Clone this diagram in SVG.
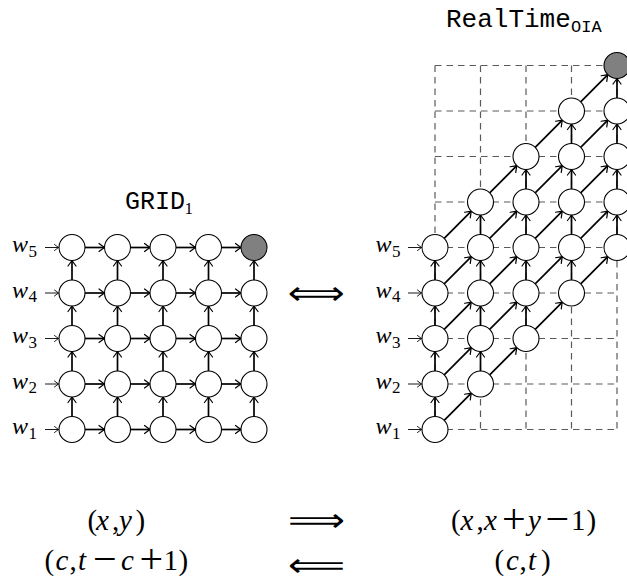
<svg xmlns="http://www.w3.org/2000/svg" width="627" height="586" viewBox="0 0 627 586">
<style>
.nd{fill:#fff;stroke:#000;stroke-width:1.1}
.gr{fill:#808080;stroke:#000;stroke-width:1.1}
.e{stroke:#000;stroke-width:1.7;fill:none;marker-end:url(#ah)}
.in{stroke:#000;stroke-width:0.9;fill:none;marker-end:url(#ahs)}
.dg{stroke:#5a5a5a;stroke-width:1.2;stroke-dasharray:6.5 5;fill:none}
.tt{font-family:"Liberation Mono",monospace;font-size:25px}
.ts{font-family:"Liberation Mono",monospace;font-size:17px}
.m{font-family:"Liberation Serif",serif;font-size:29px}
.lb{font-family:"Liberation Serif",serif;font-size:24px}
.sb{font-family:"Liberation Serif",serif;font-size:17px;font-style:normal}
.i{font-style:italic}
.op{font-size:42px}
.dbl{font-family:"DejaVu Sans",sans-serif;font-size:32px}
</style>
<defs>
<marker id="ah" markerUnits="userSpaceOnUse" markerWidth="12" markerHeight="12" viewBox="-10 -6 12 12" refX="0" refY="0" orient="auto" overflow="visible">
<path d="M-5.5,-4 Q-1.5,-1 0,0 Q-1.5,1 -5.5,4" fill="none" stroke="#000" stroke-width="1.2" stroke-linecap="round"/>
</marker>
<marker id="ahs" markerUnits="userSpaceOnUse" markerWidth="10" markerHeight="10" viewBox="-8 -5 10 10" refX="0" refY="0" orient="auto" overflow="visible">
<path d="M-4,-3 Q-1,-0.7 0,0 Q-1,0.7 -4,3" fill="none" stroke="#000" stroke-width="0.9" stroke-linecap="round"/>
</marker>
</defs>

<g id="titles">
<text class="tt" x="125" y="208.5">GRID<tspan class="sb" x="184.5" y="213.5">1</tspan></text>
<text class="tt" x="446" y="26.7" style="font-size:26px">RealTime<tspan class="ts" x="571" y="31.7">OIA</tspan></text>
</g>

<g id="dashed-grid">
<path class="dg" d="M435,65.5H617M435,111H617M435,156.5H617M435,202H617M435,247.5H617M435,293H617M435,338.5H617M435,384H617M435,429.5H617"/>
<path class="dg" d="M435,65.5V429.5M480.5,65.5V429.5M526,65.5V429.5M571.5,65.5V429.5M617,65.5V429.5"/>
</g>

<g id="connectors">
<line class="in" x1="45" y1="247.5" x2="58.5" y2="247.5"/>
<line class="in" x1="45" y1="293" x2="58.5" y2="293"/>
<line class="in" x1="45" y1="338.5" x2="58.5" y2="338.5"/>
<line class="in" x1="45" y1="384" x2="58.5" y2="384"/>
<line class="in" x1="45" y1="429.5" x2="58.5" y2="429.5"/>
<line class="in" x1="408" y1="247.5" x2="421.5" y2="247.5"/>
<line class="in" x1="408" y1="293" x2="421.5" y2="293"/>
<line class="in" x1="408" y1="338.5" x2="421.5" y2="338.5"/>
<line class="in" x1="408" y1="384" x2="421.5" y2="384"/>
<line class="in" x1="408" y1="429.5" x2="421.5" y2="429.5"/>
<line class="e" x1="85" y1="247.5" x2="104.5" y2="247.5"/><line class="e" x1="130.5" y1="247.5" x2="150" y2="247.5"/><line class="e" x1="176" y1="247.5" x2="195.5" y2="247.5"/><line class="e" x1="221.5" y1="247.5" x2="241" y2="247.5"/>
<line class="e" x1="85" y1="293" x2="104.5" y2="293"/><line class="e" x1="130.5" y1="293" x2="150" y2="293"/><line class="e" x1="176" y1="293" x2="195.5" y2="293"/><line class="e" x1="221.5" y1="293" x2="241" y2="293"/>
<line class="e" x1="85" y1="338.5" x2="104.5" y2="338.5"/><line class="e" x1="130.5" y1="338.5" x2="150" y2="338.5"/><line class="e" x1="176" y1="338.5" x2="195.5" y2="338.5"/><line class="e" x1="221.5" y1="338.5" x2="241" y2="338.5"/>
<line class="e" x1="85" y1="384" x2="104.5" y2="384"/><line class="e" x1="130.5" y1="384" x2="150" y2="384"/><line class="e" x1="176" y1="384" x2="195.5" y2="384"/><line class="e" x1="221.5" y1="384" x2="241" y2="384"/>
<line class="e" x1="85" y1="429.5" x2="104.5" y2="429.5"/><line class="e" x1="130.5" y1="429.5" x2="150" y2="429.5"/><line class="e" x1="176" y1="429.5" x2="195.5" y2="429.5"/><line class="e" x1="221.5" y1="429.5" x2="241" y2="429.5"/>
<line class="e" x1="72" y1="416.5" x2="72" y2="397"/><line class="e" x1="72" y1="371" x2="72" y2="351.5"/><line class="e" x1="72" y1="325.5" x2="72" y2="306"/><line class="e" x1="72" y1="280" x2="72" y2="260.5"/>
<line class="e" x1="117.5" y1="416.5" x2="117.5" y2="397"/><line class="e" x1="117.5" y1="371" x2="117.5" y2="351.5"/><line class="e" x1="117.5" y1="325.5" x2="117.5" y2="306"/><line class="e" x1="117.5" y1="280" x2="117.5" y2="260.5"/>
<line class="e" x1="163" y1="416.5" x2="163" y2="397"/><line class="e" x1="163" y1="371" x2="163" y2="351.5"/><line class="e" x1="163" y1="325.5" x2="163" y2="306"/><line class="e" x1="163" y1="280" x2="163" y2="260.5"/>
<line class="e" x1="208.5" y1="416.5" x2="208.5" y2="397"/><line class="e" x1="208.5" y1="371" x2="208.5" y2="351.5"/><line class="e" x1="208.5" y1="325.5" x2="208.5" y2="306"/><line class="e" x1="208.5" y1="280" x2="208.5" y2="260.5"/>
<line class="e" x1="254" y1="416.5" x2="254" y2="397"/><line class="e" x1="254" y1="371" x2="254" y2="351.5"/><line class="e" x1="254" y1="325.5" x2="254" y2="306"/><line class="e" x1="254" y1="280" x2="254" y2="260.5"/>
<line class="e" x1="435" y1="416.5" x2="435" y2="397"/><line class="e" x1="435" y1="371" x2="435" y2="351.5"/><line class="e" x1="435" y1="325.5" x2="435" y2="306"/><line class="e" x1="435" y1="280" x2="435" y2="260.5"/>
<line class="e" x1="480.5" y1="371" x2="480.5" y2="351.5"/><line class="e" x1="480.5" y1="325.5" x2="480.5" y2="306"/><line class="e" x1="480.5" y1="280" x2="480.5" y2="260.5"/><line class="e" x1="480.5" y1="234.5" x2="480.5" y2="215"/>
<line class="e" x1="526" y1="325.5" x2="526" y2="306"/><line class="e" x1="526" y1="280" x2="526" y2="260.5"/><line class="e" x1="526" y1="234.5" x2="526" y2="215"/><line class="e" x1="526" y1="189" x2="526" y2="169.5"/>
<line class="e" x1="571.5" y1="280" x2="571.5" y2="260.5"/><line class="e" x1="571.5" y1="234.5" x2="571.5" y2="215"/><line class="e" x1="571.5" y1="189" x2="571.5" y2="169.5"/><line class="e" x1="571.5" y1="143.5" x2="571.5" y2="124"/>
<line class="e" x1="617" y1="234.5" x2="617" y2="215"/><line class="e" x1="617" y1="189" x2="617" y2="169.5"/><line class="e" x1="617" y1="143.5" x2="617" y2="124"/><line class="e" x1="617" y1="98" x2="617" y2="78.5"/>
<line class="e" x1="444.19" y1="420.31" x2="471.31" y2="393.19"/><line class="e" x1="444.19" y1="374.81" x2="471.31" y2="347.69"/><line class="e" x1="444.19" y1="329.31" x2="471.31" y2="302.19"/><line class="e" x1="444.19" y1="283.81" x2="471.31" y2="256.69"/><line class="e" x1="444.19" y1="238.31" x2="471.31" y2="211.19"/>
<line class="e" x1="489.69" y1="374.81" x2="516.81" y2="347.69"/><line class="e" x1="489.69" y1="329.31" x2="516.81" y2="302.19"/><line class="e" x1="489.69" y1="283.81" x2="516.81" y2="256.69"/><line class="e" x1="489.69" y1="238.31" x2="516.81" y2="211.19"/><line class="e" x1="489.69" y1="192.81" x2="516.81" y2="165.69"/>
<line class="e" x1="535.19" y1="329.31" x2="562.31" y2="302.19"/><line class="e" x1="535.19" y1="283.81" x2="562.31" y2="256.69"/><line class="e" x1="535.19" y1="238.31" x2="562.31" y2="211.19"/><line class="e" x1="535.19" y1="192.81" x2="562.31" y2="165.69"/><line class="e" x1="535.19" y1="147.31" x2="562.31" y2="120.19"/>
<line class="e" x1="580.69" y1="283.81" x2="607.81" y2="256.69"/><line class="e" x1="580.69" y1="238.31" x2="607.81" y2="211.19"/><line class="e" x1="580.69" y1="192.81" x2="607.81" y2="165.69"/><line class="e" x1="580.69" y1="147.31" x2="607.81" y2="120.19"/><line class="e" x1="580.69" y1="101.81" x2="607.81" y2="74.69"/>
</g>

<g id="grid1-nodes">
<g id="g-1-1"><circle class="nd" cx="72" cy="429.5" r="13"/></g>
<g id="g-2-1"><circle class="nd" cx="117.5" cy="429.5" r="13"/></g>
<g id="g-3-1"><circle class="nd" cx="163" cy="429.5" r="13"/></g>
<g id="g-4-1"><circle class="nd" cx="208.5" cy="429.5" r="13"/></g>
<g id="g-5-1"><circle class="nd" cx="254" cy="429.5" r="13"/></g>
<g id="g-1-2"><circle class="nd" cx="72" cy="384" r="13"/></g>
<g id="g-2-2"><circle class="nd" cx="117.5" cy="384" r="13"/></g>
<g id="g-3-2"><circle class="nd" cx="163" cy="384" r="13"/></g>
<g id="g-4-2"><circle class="nd" cx="208.5" cy="384" r="13"/></g>
<g id="g-5-2"><circle class="nd" cx="254" cy="384" r="13"/></g>
<g id="g-1-3"><circle class="nd" cx="72" cy="338.5" r="13"/></g>
<g id="g-2-3"><circle class="nd" cx="117.5" cy="338.5" r="13"/></g>
<g id="g-3-3"><circle class="nd" cx="163" cy="338.5" r="13"/></g>
<g id="g-4-3"><circle class="nd" cx="208.5" cy="338.5" r="13"/></g>
<g id="g-5-3"><circle class="nd" cx="254" cy="338.5" r="13"/></g>
<g id="g-1-4"><circle class="nd" cx="72" cy="293" r="13"/></g>
<g id="g-2-4"><circle class="nd" cx="117.5" cy="293" r="13"/></g>
<g id="g-3-4"><circle class="nd" cx="163" cy="293" r="13"/></g>
<g id="g-4-4"><circle class="nd" cx="208.5" cy="293" r="13"/></g>
<g id="g-5-4"><circle class="nd" cx="254" cy="293" r="13"/></g>
<g id="g-1-5"><circle class="nd" cx="72" cy="247.5" r="13"/></g>
<g id="g-2-5"><circle class="nd" cx="117.5" cy="247.5" r="13"/></g>
<g id="g-3-5"><circle class="nd" cx="163" cy="247.5" r="13"/></g>
<g id="g-4-5"><circle class="nd" cx="208.5" cy="247.5" r="13"/></g>
<g id="g-5-5"><circle class="gr" cx="254" cy="247.5" r="13"/></g>
</g>

<g id="rt-nodes">
<g id="r-1-1"><circle class="nd" cx="435" cy="429.5" r="13"/></g>
<g id="r-1-2"><circle class="nd" cx="435" cy="384" r="13"/></g>
<g id="r-1-3"><circle class="nd" cx="435" cy="338.5" r="13"/></g>
<g id="r-1-4"><circle class="nd" cx="435" cy="293" r="13"/></g>
<g id="r-1-5"><circle class="nd" cx="435" cy="247.5" r="13"/></g>
<g id="r-2-2"><circle class="nd" cx="480.5" cy="384" r="13"/></g>
<g id="r-2-3"><circle class="nd" cx="480.5" cy="338.5" r="13"/></g>
<g id="r-2-4"><circle class="nd" cx="480.5" cy="293" r="13"/></g>
<g id="r-2-5"><circle class="nd" cx="480.5" cy="247.5" r="13"/></g>
<g id="r-2-6"><circle class="nd" cx="480.5" cy="202" r="13"/></g>
<g id="r-3-3"><circle class="nd" cx="526" cy="338.5" r="13"/></g>
<g id="r-3-4"><circle class="nd" cx="526" cy="293" r="13"/></g>
<g id="r-3-5"><circle class="nd" cx="526" cy="247.5" r="13"/></g>
<g id="r-3-6"><circle class="nd" cx="526" cy="202" r="13"/></g>
<g id="r-3-7"><circle class="nd" cx="526" cy="156.5" r="13"/></g>
<g id="r-4-4"><circle class="nd" cx="571.5" cy="293" r="13"/></g>
<g id="r-4-5"><circle class="nd" cx="571.5" cy="247.5" r="13"/></g>
<g id="r-4-6"><circle class="nd" cx="571.5" cy="202" r="13"/></g>
<g id="r-4-7"><circle class="nd" cx="571.5" cy="156.5" r="13"/></g>
<g id="r-4-8"><circle class="nd" cx="571.5" cy="111" r="13"/></g>
<g id="r-5-5"><circle class="nd" cx="617" cy="247.5" r="13"/></g>
<g id="r-5-6"><circle class="nd" cx="617" cy="202" r="13"/></g>
<g id="r-5-7"><circle class="nd" cx="617" cy="156.5" r="13"/></g>
<g id="r-5-8"><circle class="nd" cx="617" cy="111" r="13"/></g>
<g id="r-5-9"><circle class="gr" cx="617" cy="65.5" r="13"/></g>
</g>

<g id="input-labels">
<text class="lb i" x="12" y="252">w<tspan class="sb" x="28.5" y="256.5">5</tspan></text>
<text class="lb i" x="12" y="297.5">w<tspan class="sb" x="28.5" y="302">4</tspan></text>
<text class="lb i" x="12" y="343">w<tspan class="sb" x="28.5" y="347.5">3</tspan></text>
<text class="lb i" x="12" y="388.5">w<tspan class="sb" x="28.5" y="393">2</tspan></text>
<text class="lb i" x="12" y="434">w<tspan class="sb" x="28.5" y="438.5">1</tspan></text>
<text class="lb i" x="375.5" y="252">w<tspan class="sb" x="392" y="256.5">5</tspan></text>
<text class="lb i" x="375.5" y="297.5">w<tspan class="sb" x="392" y="302">4</tspan></text>
<text class="lb i" x="375.5" y="343">w<tspan class="sb" x="392" y="347.5">3</tspan></text>
<text class="lb i" x="375.5" y="388.5">w<tspan class="sb" x="392" y="393">2</tspan></text>
<text class="lb i" x="375.5" y="434">w<tspan class="sb" x="392" y="438.5">1</tspan></text>
</g>

<g id="equivalence">
<text class="dbl" x="288" y="304" textLength="57" lengthAdjust="spacingAndGlyphs">⟺</text>
</g>

<g id="formulas">
<text class="m" y="530"><tspan x="87.5">(</tspan><tspan class="i" x="96">x</tspan><tspan x="112">,</tspan><tspan class="i" x="119">y</tspan><tspan x="135.5">)</tspan></text>
<text class="dbl" x="288" y="531" textLength="57" lengthAdjust="spacingAndGlyphs">⟹</text>
<text class="m" y="530"><tspan x="451">(</tspan><tspan class="i" x="460.5">x</tspan><tspan x="476.5">,</tspan><tspan class="i" x="484">x</tspan><tspan class="op" x="502" y="532.5">+</tspan><tspan class="i" x="528" y="530">y</tspan><tspan class="op" x="545.5" y="532.5">−</tspan><tspan x="571" y="530">1</tspan><tspan x="586.5">)</tspan></text>
<text class="m" y="570"><tspan x="44.5">(</tspan><tspan class="i" x="55.5">c</tspan><tspan x="69.5">,</tspan><tspan class="i" x="78">t</tspan><tspan class="op" x="93" y="572.5">−</tspan><tspan class="i" x="121" y="570">c</tspan><tspan class="op" x="139.5" y="572.5">+</tspan><tspan x="163.5" y="570">1</tspan><tspan x="178.5">)</tspan></text>
<text class="dbl" x="288" y="576" textLength="57" lengthAdjust="spacingAndGlyphs">⟸</text>
<text class="m" y="570"><tspan x="494.5">(</tspan><tspan class="i" x="506">c</tspan><tspan x="519.5">,</tspan><tspan class="i" x="528">t</tspan><tspan x="541">)</tspan></text>
</g>
</svg>
